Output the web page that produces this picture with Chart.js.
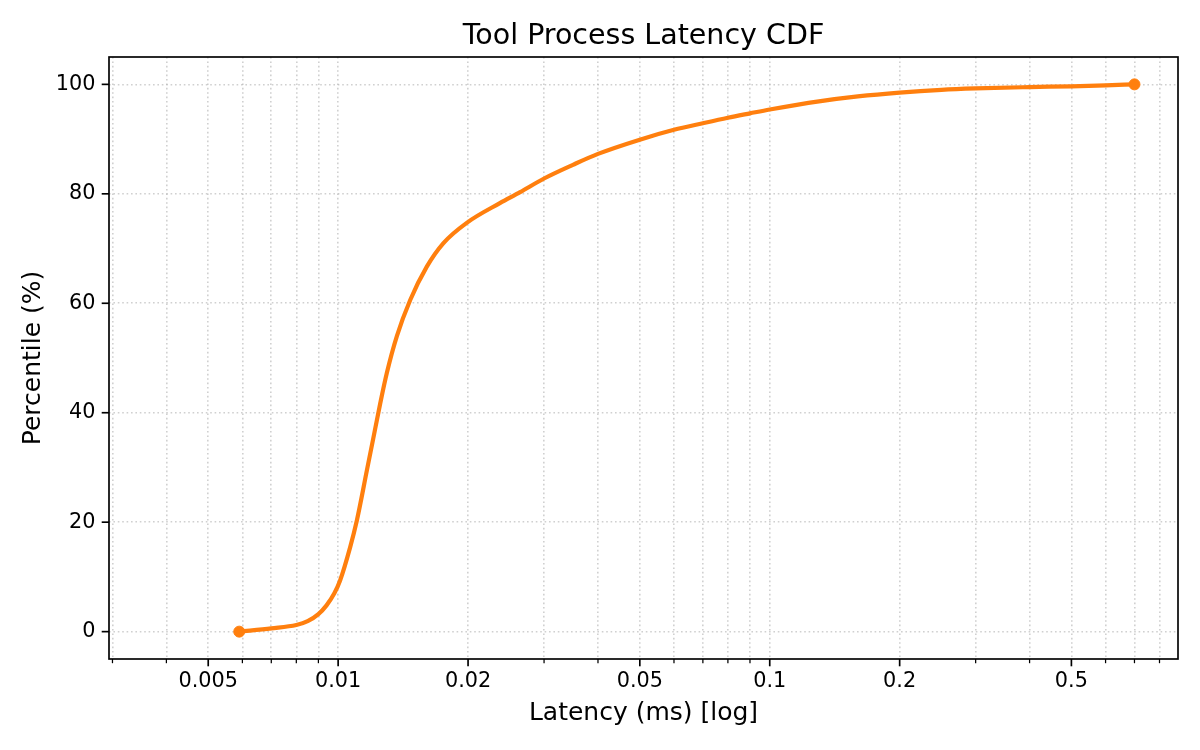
<!DOCTYPE html>
<html>
<head>
<meta charset="utf-8">
<script src="https://cdn.jsdelivr.net/npm/chart.js@4/dist/chart.umd.min.js"></script>
<style>
  html, body { margin: 0; padding: 0; background: #ffffff; }
  #wrap { width: 1200px; height: 750px; }
</style>
</head>
<body>
<div id="wrap"><canvas id="c" width="1200" height="750"></canvas></div>
<script>
// ---- data ----
const latencyMs = [0.0059, 0.0070, 0.0080, 0.0085, 0.0090, 0.0094, 0.0098, 0.0101, 0.01066, 0.01105,
                   0.01166, 0.01218, 0.01251, 0.01297, 0.01368, 0.01469, 0.01605, 0.01754, 0.01986, 0.0237,
                   0.0264, 0.030, 0.035, 0.040, 0.050, 0.060, 0.070, 0.080, 0.090, 0.100,
                   0.130, 0.160, 0.200, 0.250, 0.300, 0.400, 0.500, 0.600, 0.700];
const percentile = [0, 0.6, 1.2, 1.9, 3.2, 4.8, 7.0, 9.3, 15.4, 20.3,
                    29.5, 37.0, 41.6, 47.3, 54.0, 60.6, 66.7, 71.0, 74.7, 78.3,
                    80.3, 82.8, 85.3, 87.3, 89.9, 91.7, 92.9, 93.9, 94.7, 95.4,
                    96.9, 97.8, 98.5, 99.0, 99.25, 99.5, 99.65, 99.82, 100];

const xTickValues = [0.003, 0.004, 0.005, 0.006, 0.007, 0.008, 0.009,
                     0.01, 0.02, 0.03, 0.04, 0.05, 0.06, 0.07, 0.08, 0.09,
                     0.1, 0.2, 0.3, 0.4, 0.5, 0.6, 0.7, 0.8];
const xTickLabels = ['', '', '0.005', '', '', '', '',
                     '0.01', '0.02', '', '', '0.05', '', '', '', '',
                     '0.1', '0.2', '', '', '0.5', '', '', ''];
const yTickValues = [0, 20, 40, 60, 80, 100];

const titleText = 'Tool Process Latency CDF';
const xTitle = 'Latency (ms) [log]';
const yTitle = 'Percentile (%)';

// ---- styling ----
const FONT = 'DejaVu Sans';
const LINE_COLOR = '#ff7f0e';
const GRID_COLOR = 'rgba(176,176,176,0.6)';

const points = latencyMs.map((v, i) => ({ x: v, y: percentile[i] }));

const frameAndTicks = {
  id: 'frameAndTicks',
  afterDatasetsDraw(chart) {
    const { ctx, chartArea: a, scales } = chart;
    const xs = scales.x, ys = scales.y;
    ctx.save();
    ctx.strokeStyle = '#000000';
    xs.ticks.forEach((t, i) => {
      const px = xs.getPixelForValue(t.value);
      const major = xTickLabels[i] !== '';
      ctx.lineWidth = major ? 1.67 : 1.25;
      const len = major ? 7.3 : 4.2;
      ctx.beginPath();
      ctx.moveTo(px, a.bottom);
      ctx.lineTo(px, a.bottom + len);
      ctx.stroke();
    });
    ys.ticks.forEach((t) => {
      const py = ys.getPixelForValue(t.value);
      ctx.lineWidth = 1.67;
      ctx.beginPath();
      ctx.moveTo(a.left, py);
      ctx.lineTo(a.left - 7.3, py);
      ctx.stroke();
    });
    ctx.lineWidth = 1.67;
    ctx.strokeRect(a.left, a.top, a.right - a.left, a.bottom - a.top);
    ctx.restore();
  }
};

new Chart(document.getElementById('c'), {
  type: 'line',
  data: {
    datasets: [{
      data: points,
      borderColor: LINE_COLOR,
      backgroundColor: LINE_COLOR,
      borderWidth: 4.2,
      fill: false,
      cubicInterpolationMode: 'monotone',
      pointRadius: (c) => (c.dataIndex === 0 || c.dataIndex === latencyMs.length - 1) ? 5.5 : 0,
      pointHoverRadius: 0,
      pointBackgroundColor: LINE_COLOR,
      pointBorderColor: LINE_COLOR,
      pointBorderWidth: 1,
      clip: false
    }]
  },
  options: {
    responsive: false,
    animation: false,
    events: [],
    layout: { padding: { left: 0, right: 22, top: 0, bottom: 0 } },
    plugins: {
      legend: { display: false },
      tooltip: { enabled: false },
      title: {
        display: true,
        text: titleText,
        fullSize: false,
        color: '#000000',
        font: { family: FONT, size: 28.5, weight: 'normal', lineHeight: 1.2 },
        padding: { top: 19.0, bottom: 3.8 }
      }
    },
    scales: {
      x: {
        type: 'logarithmic',
        bounds: 'data',
        min: 0.002945,
        max: 0.883,
        afterBuildTicks: (s) => { s.ticks = xTickValues.map(v => ({ value: v })); },
        afterFit: (s) => { s.height = 91; },
        grid: { color: GRID_COLOR, lineWidth: 1.6, drawTicks: false },
        border: { display: false, dash: [1.6, 2.8] },
        ticks: {
          autoSkip: false,
          maxRotation: 0,
          minRotation: 0,
          padding: 10.2,
          color: '#000000',
          font: { family: FONT, size: 20.8, lineHeight: 1.2 },
          callback: (v, i) => xTickLabels[i]
        },
        title: {
          display: true,
          text: xTitle,
          color: '#000000',
          font: { family: FONT, size: 25, lineHeight: 1.2 },
          padding: { top: 0, bottom: 22 }
        }
      },
      y: {
        type: 'linear',
        bounds: 'data',
        min: -5,
        max: 105,
        afterBuildTicks: (s) => { s.ticks = yTickValues.map(v => ({ value: v })); },
        afterFit: (s) => { s.width = 109; },
        grid: { color: GRID_COLOR, lineWidth: 1.6, drawTicks: false },
        border: { display: false, dash: [1.6, 2.8] },
        ticks: {
          padding: 13.6,
          color: '#000000',
          font: { family: FONT, size: 20.8, lineHeight: 1.2 },
          callback: (v) => String(v)
        },
        title: {
          display: true,
          text: yTitle,
          color: '#000000',
          font: { family: FONT, size: 25, lineHeight: 1.2 },
          padding: { top: 18.3, bottom: 0 }
        }
      }
    }
  },
  plugins: [frameAndTicks]
});
</script>
</body>
</html>
